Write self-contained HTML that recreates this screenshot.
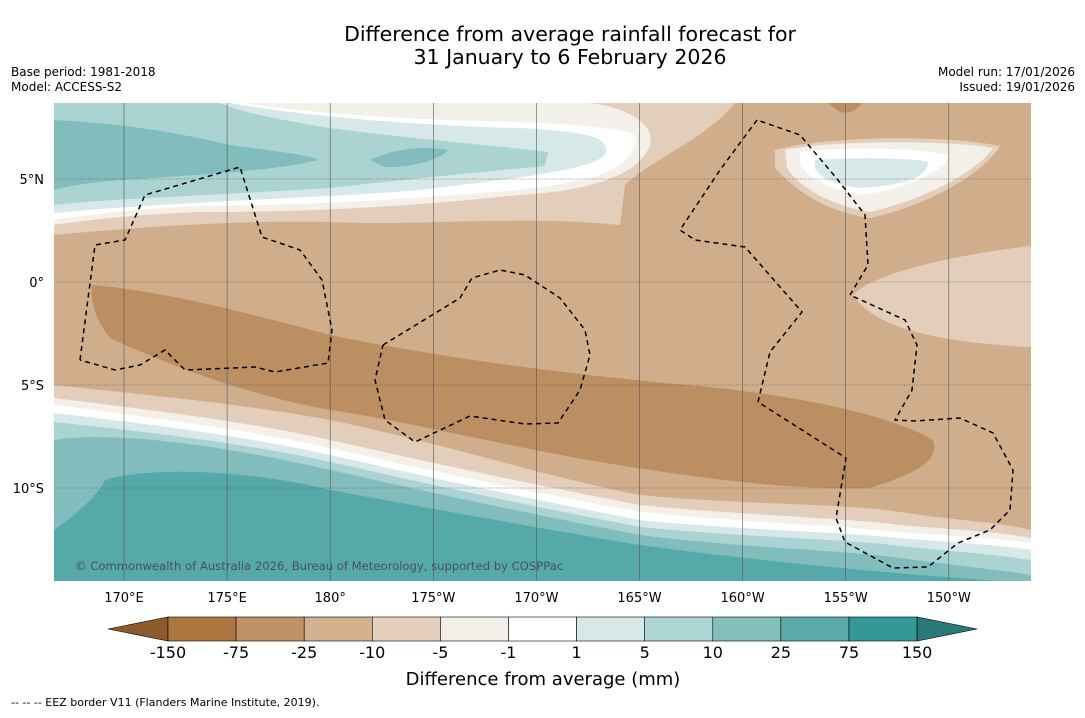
<!DOCTYPE html>
<html><head><meta charset="utf-8"><style>
body{margin:0;background:#fff;font-family:"Liberation Sans",sans-serif}
svg text{font-family:"DejaVu Sans","Liberation Sans",sans-serif}
</style></head><body>
<svg width="1085" height="713" viewBox="0 0 1085 713" xmlns="http://www.w3.org/2000/svg">
<text x="570" y="41" font-size="20.5" text-anchor="middle">Difference from average rainfall forecast for</text>
<text x="570" y="64" font-size="20.5" text-anchor="middle">31 January to 6 February 2026</text>
<text x="11" y="76" font-size="12">Base period: 1981-2018</text>
<text x="11" y="91" font-size="12">Model: ACCESS-S2</text>
<text x="1075" y="76" font-size="12" text-anchor="end">Model run: 17/01/2026</text>
<text x="1075" y="91" font-size="12" text-anchor="end">Issued: 19/01/2026</text>
<defs><clipPath id="mc"><rect x="54" y="103" width="977" height="478"/></clipPath></defs>
<g clip-path="url(#mc)">
<rect x="54" y="103" width="977" height="478" fill="#d0ae8c"/>
<path fill="#e2cebb" d="M54,103 L735,103 C705,140 650,160 625,185 L620,225 C520,215 420,226 330,222 C250,220 150,226 54,235 Z"/>
<path fill="#f3efe9" d="M54,103 L590,103 C630,108 655,125 650,145 C640,172 600,190 520,195 C420,205 330,212 200,212 C150,214 100,218 54,225 Z"/>
<path fill="#ffffff" d="M54,103 L245,103 C300,112 400,120 520,122 C600,125 640,130 636,140 C630,170 600,180 520,190 C420,198 330,205 200,206 C150,208 100,213 54,220 Z"/>
<path fill="#d6e9e8" d="M54,103 L230,103 C300,115 400,125 520,128 C600,132 610,140 605,155 C590,170 520,178 420,190 C330,198 200,200 54,213 Z"/>
<path fill="#aad3d2" d="M54,103 L220,103 C240,112 280,120 330,128 C420,140 520,148 548,152 L545,166 C480,172 400,180 330,188 C200,196 120,198 54,205 Z"/>
<path fill="#80bdbc" d="M54,120 C120,123 180,133 230,145 C280,152 310,155 318,160 C280,170 200,175 120,180 C90,183 70,185 54,190 Z"/>
<path fill="#80bdbc" d="M370,160 C390,150 420,145 448,150 C440,160 410,168 385,167 Z"/>
<path fill="#e2cebb" d="M775,150 C830,135 950,135 1000,146 C985,172 930,205 870,218 C825,212 795,190 775,168 Z"/>
<path fill="#f3efe9" d="M785,150 C830,140 950,140 993,148 C978,170 930,198 870,212 C830,205 800,188 787,168 Z"/>
<path fill="#ffffff" d="M800,152 C850,146 930,148 950,156 C940,175 900,190 860,195 C830,190 808,178 800,165 Z"/>
<path fill="#d6e9e8" d="M815,160 C860,157 910,158 928,162 C928,178 900,186 860,188 C835,185 820,178 815,168 Z"/>
<path fill="#bb8f62" d="M828,103 L862,103 C858,110 850,114 840,112 Z"/>
<path fill="#e2cebb" d="M1031,246 C950,255 870,275 853,295 C870,322 920,342 1031,347 Z"/>
<path fill="#bb8f62" d="M92,285 C150,290 220,305 330,335 C450,360 600,378 700,386 C820,398 900,420 933,440 C940,460 920,472 870,488 C800,490 720,482 600,462 C500,445 400,420 330,410 C250,395 180,370 110,338 C95,320 90,300 92,285 Z"/>
<path fill="#e2cebb" d="M54,385 C150,395 250,405 330,420 C450,445 550,478 640,495 C740,505 846,503 900,512 C950,520 1000,522 1031,530 L1031,581 L54,581 Z"/>
<path fill="#f3efe9" d="M54,398 C150,410 250,422 330,440 C420,460 500,478 640,505 C740,515 846,518 900,525 C960,530 1000,532 1031,538 L1031,581 L54,581 Z"/>
<path fill="#ffffff" d="M54,405 C150,417 250,430 330,448 C420,468 500,486 640,512 C740,522 846,526 900,532 C960,537 1000,538 1031,543 L1031,581 L54,581 Z"/>
<path fill="#d6e9e8" d="M54,413 C150,424 250,437 330,455 C420,475 500,493 640,520 C740,530 846,532 900,538 C960,543 1000,545 1031,550 L1031,581 L54,581 Z"/>
<path fill="#aad3d2" d="M54,422 C150,432 250,444 330,462 C420,482 500,500 640,527 C740,537 846,539 900,546 C960,552 1000,555 1031,560 L1031,581 L54,581 Z"/>
<path fill="#80bdbc" d="M54,440 C100,432 200,440 330,470 C420,490 500,508 640,535 C740,548 846,550 900,558 C960,566 1000,570 1031,575 L1031,581 L54,581 Z"/>
<path fill="#56a9a9" d="M54,530 C80,512 100,492 105,480 C150,466 250,470 330,490 C450,512 550,530 640,545 C750,560 900,575 1031,583 L54,583 Z"/>
<g stroke="#555" stroke-width="0.6" id="grid"></g>
<g fill="none" stroke="#000" stroke-width="1.5" stroke-dasharray="5,4">
<polyline points="80,360 95,245 125,240 145,195 240,167 262,237 300,250 322,280 332,330 328,363 275,372 255,367 185,370 165,350 140,365 115,370 80,360"/>
<polyline points="383,345 460,298 472,278 500,270 525,275 560,298 585,330 590,355 580,390 558,423 525,424 470,416 415,442 385,420 375,380 383,345"/>
<polyline points="757,120 720,170 680,230 695,240 745,247 802,312 770,352 758,402 846,458 836,518 845,542 893,568 928,567 958,543 990,530 1010,510 1013,470 993,433 960,418 915,421 895,420 912,390 917,345 905,320 850,295 868,265 865,215 838,180 800,135 757,120"/>
</g>
<text x="75" y="570" font-size="11.6" fill="#444" fill-opacity="0.85">© Commonwealth of Australia 2026, Bureau of Meteorology, supported by COSPPac</text>
</g>
<g id="axes" font-size="13"></g>
<g id="cbar"></g>
<text x="543" y="685" font-size="18" text-anchor="middle">Difference from average (mm)</text>
<text x="11" y="706" font-size="11">-- -- -- EEZ border V11 (Flanders Marine Institute, 2019).</text>
<script>
const lonLabels=["170°E","175°E","180°","175°W","170°W","165°W","160°W","155°W","150°W"];
const latLabels=["5°N","0°","5°S","10°S"];
const levels=["-150","-75","-25","-10","-5","-1","1","5","10","25","75","150"];
const colors=["#ad7641","#bf9367","#d3b18f","#e4d0bd","#f3eee8","#ffffff","#d6e9e8","#acd5d4","#84bfbe","#5aabaa","#339896"];
const NS="http://www.w3.org/2000/svg";
function mk(t,a,p){const e=document.createElementNS(NS,t);for(const k in a)e.setAttribute(k,a[k]);p.appendChild(e);return e;}
const lonX=i=>124+i*103.1, latY=i=>179+i*103;
const grid=document.getElementById('grid'), axes=document.getElementById('axes');
lonLabels.forEach((l,i)=>{
 const ln=mk('line',{x1:lonX(i),x2:lonX(i),y1:103,y2:581},grid);
 
 
 const t=mk('text',{x:lonX(i),y:602,'text-anchor':'middle'},axes);t.textContent=l;
 
 
});
latLabels.forEach((l,i)=>{
 const ln=mk('line',{x1:54,x2:1031,y1:latY(i),y2:latY(i),'stroke-dasharray':'1,1'},grid);
 
 
 const t=mk('text',{x:44,y:latY(i)+5,'text-anchor':'end'},axes);t.textContent=l;
 
 
});
const cb=document.getElementById('cbar');const x0=168,w=68.1,y0=617,h=24;
const lt=mk('polygon',{points:`${x0},${y0} ${x0},${y0+h} 108,${y0+h/2}`,fill:'#8e5a2c',stroke:'#000','stroke-width':0.6},cb);


colors.forEach((c,i)=>{
 const r=mk('rect',{x:x0+i*w,y:y0,width:w,height:h,fill:c,stroke:'#000','stroke-width':0.6},cb);
 
 
});
const xe=x0+colors.length*w;
const rt=mk('polygon',{points:`${xe},${y0} ${xe},${y0+h} ${xe+60},${y0+h/2}`,fill:'#2a7a78',stroke:'#000','stroke-width':0.6},cb);


levels.forEach((l,i)=>{
 const t=mk('text',{x:x0+i*w,y:658,'font-size':16,'text-anchor':'middle'},cb);t.textContent=l;
 
 
});
</script>
</svg>
</body></html>
